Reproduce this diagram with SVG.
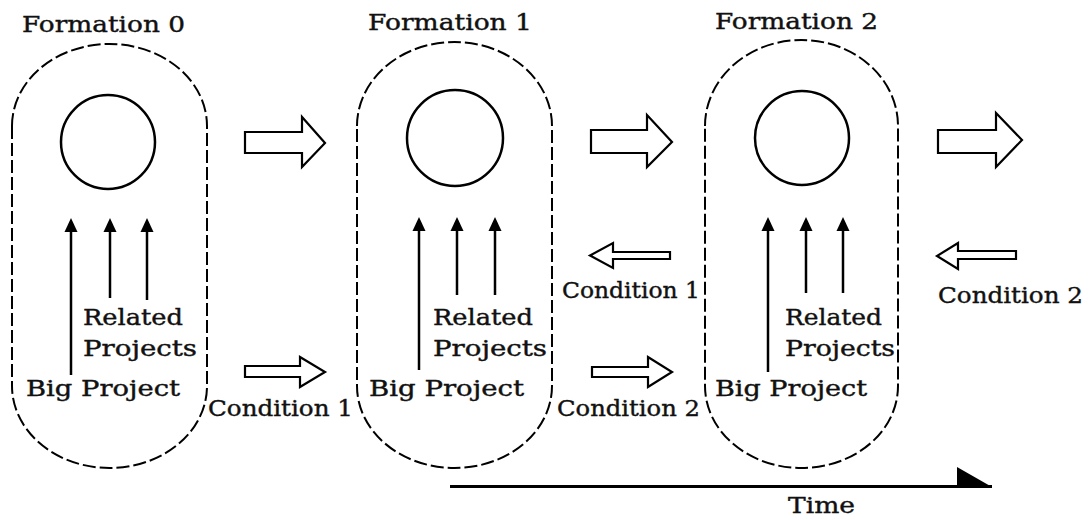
<svg xmlns="http://www.w3.org/2000/svg" width="1091" height="520" viewBox="0 0 1091 520">
<style>
.cap{fill:none;stroke:#000;stroke-width:2;stroke-dasharray:13 4}
.circ{fill:none;stroke:#000;stroke-width:2.5}
.line{stroke:#000;stroke-width:2.5;fill:none}
.blk{fill:#fff;stroke:#000;stroke-width:2.2;stroke-linejoin:miter}
text{font-family:"DejaVu Serif","Liberation Serif",serif;font-size:22px;fill:#111;stroke:#111;stroke-width:0.4}
</style>
<defs>
<path id="head" d="M-6.5,14 L0,0 L6.5,14 Z" fill="#000"/>
</defs>

<g id="formation0">
<text x="22" y="32" textLength="163" lengthAdjust="spacingAndGlyphs">Formation 0</text>
<path class="cap" d="M12,126 A97.5,82 0 0 1 207,126 L207,386 A97.5,82 0 0 1 12,386 Z"/>
<circle class="circ" cx="108" cy="142" r="47"/>
<line class="line" x1="71" y1="230" x2="71" y2="375"/>
<line class="line" x1="110" y1="230" x2="110" y2="298"/>
<line class="line" x1="147" y1="230" x2="147" y2="300"/>
<use href="#head" x="71" y="218"/>
<use href="#head" x="110" y="218"/>
<use href="#head" x="147" y="218"/>
<text x="83" y="325" textLength="100" lengthAdjust="spacingAndGlyphs">Related</text>
<text x="83" y="356" textLength="114" lengthAdjust="spacingAndGlyphs">Projects</text>
<text x="26" y="396" textLength="154" lengthAdjust="spacingAndGlyphs">Big Project</text>
</g>

<g id="formation1">
<text x="368" y="30" textLength="164" lengthAdjust="spacingAndGlyphs">Formation 1</text>
<path class="cap" d="M357,126 A97.5,84 0 0 1 552,126 L552,386 A97.5,82 0 0 1 357,386 Z"/>
<circle class="circ" cx="455" cy="138" r="48"/>
<line class="line" x1="419" y1="229" x2="419" y2="370"/>
<line class="line" x1="457" y1="229" x2="457" y2="295"/>
<line class="line" x1="495" y1="229" x2="495" y2="295"/>
<use href="#head" x="419" y="217"/>
<use href="#head" x="457" y="217"/>
<use href="#head" x="495" y="217"/>
<text x="433" y="325" textLength="100" lengthAdjust="spacingAndGlyphs">Related</text>
<text x="433" y="356" textLength="114" lengthAdjust="spacingAndGlyphs">Projects</text>
<text x="369" y="396" textLength="155" lengthAdjust="spacingAndGlyphs">Big Project</text>
</g>

<g id="formation2">
<text x="715" y="29" textLength="163" lengthAdjust="spacingAndGlyphs">Formation 2</text>
<path class="cap" d="M705,126 A96.5,86 0 0 1 898,126 L898,386 A96.5,82 0 0 1 705,386 Z"/>
<circle class="circ" cx="802" cy="138" r="47"/>
<line class="line" x1="768" y1="229" x2="768" y2="372"/>
<line class="line" x1="806" y1="229" x2="806" y2="293"/>
<line class="line" x1="843" y1="229" x2="843" y2="293"/>
<use href="#head" x="768" y="217"/>
<use href="#head" x="806" y="217"/>
<use href="#head" x="843" y="217"/>
<text x="785" y="325" textLength="97" lengthAdjust="spacingAndGlyphs">Related</text>
<text x="785" y="356" textLength="110" lengthAdjust="spacingAndGlyphs">Projects</text>
<text x="715" y="396" textLength="152" lengthAdjust="spacingAndGlyphs">Big Project</text>
</g>

<g id="connectors">
<path class="blk" d="M245,132 L302,132 L302,117 L325,143 L302,167 L302,153 L245,153 Z"/>
<path class="blk" d="M591,130 L647,130 L647,115 L672,142 L647,167 L647,153 L591,153 Z"/>
<path class="blk" d="M938,130 L996,130 L996,113 L1022,140 L996,167 L996,153 L938,153 Z"/>
<path class="blk" d="M245,366 L300,366 L300,357 L325,372 L300,387 L300,377 L245,377 Z"/>
<path class="blk" d="M592,367 L648,367 L648,357 L672,372 L648,387 L648,377 L592,377 Z"/>
<path class="blk" d="M670,252 L613,252 L613,243 L590,255.5 L613,268 L613,259 L670,259 Z"/>
<path class="blk" d="M1016,251 L958,251 L958,243 L937,256 L958,269 L958,259 L1016,259 Z"/>
<line x1="450" y1="486.5" x2="992" y2="486.5" stroke="#000" stroke-width="3"/>
<path d="M957,467 L992,487 L957,487 Z" fill="#000"/>
</g>

<g id="labels">
<text x="208" y="416" textLength="145" lengthAdjust="spacingAndGlyphs">Condition 1</text>
<text x="562" y="298" textLength="138" lengthAdjust="spacingAndGlyphs">Condition 1</text>
<text x="557" y="416" textLength="143" lengthAdjust="spacingAndGlyphs">Condition 2</text>
<text x="938" y="303" textLength="145" lengthAdjust="spacingAndGlyphs">Condition 2</text>
<text x="788" y="513" textLength="67" lengthAdjust="spacingAndGlyphs">Time</text>
</g>
</svg>
